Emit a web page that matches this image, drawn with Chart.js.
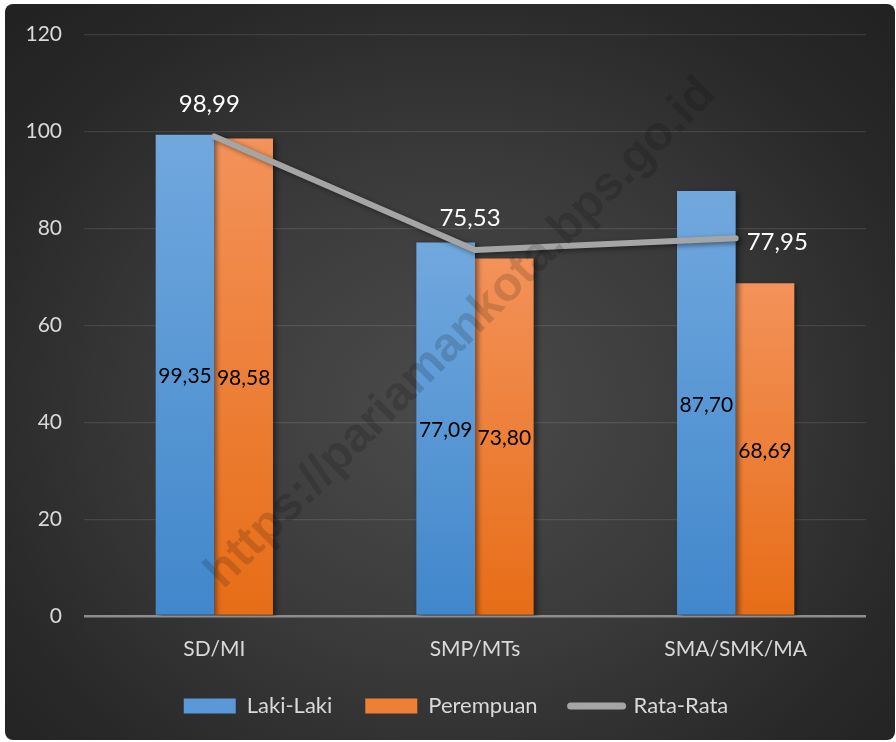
<!DOCTYPE html>
<html>
<head>
<meta charset="utf-8">
<script src="https://cdn.jsdelivr.net/npm/chart.js@4/dist/chart.umd.min.js"></script>
<style>
  html, body { margin: 0; padding: 0; background: #ffffff; }
  #bg {
    position: absolute; left: 5px; top: 4px; width: 890px; height: 736px;
    border-radius: 8px;
    background: radial-gradient(ellipse 70% 75% at 50% 55%, #4b4b4b 0%, #3a3a3a 45%, #282828 80%, #222222 100%);
  }
  #wrap { position: absolute; left: 0; top: 0; width: 896px; height: 742px; }
</style>
</head>
<body>
<div id="bg"></div>
<div id="wrap"><canvas id="c" width="896" height="742"></canvas></div>
<script>
const categories = ['SD/MI', 'SMP/MTs', 'SMA/SMK/MA'];
const lakiLaki = [99.35, 77.09, 87.70];
const perempuan = [98.58, 73.80, 68.69];
const rataRata = [98.99, 75.53, 77.95];
const seriesNames = ['Laki-Laki', 'Perempuan', 'Rata-Rata'];
const yTicks = [0, 20, 40, 60, 80, 100, 120];
const watermarkText = 'https://pariamankota.bps.go.id';

const FONT = 'Lato, "Open Sans", sans-serif';
const fmt = v => v.toFixed(2).replace('.', ',');

function barGradient(top, bottom) {
  return function(ctx) {
    const chart = ctx.chart;
    const ys = chart.scales && chart.scales.y;
    if (!ys || ctx.raw === undefined || !isFinite(ys.getPixelForValue(0))) return bottom;
    const y0 = ys.getPixelForValue(ctx.raw);
    const y1 = ys.getPixelForValue(0);
    const g = chart.ctx.createLinearGradient(0, y0, 0, y1);
    g.addColorStop(0, top);
    g.addColorStop(1, bottom);
    return g;
  };
}

const shadowPlugin = {
  id: 'shadows',
  afterLayout(chart) {
    if (chart.legend) { chart.legend.left += 23; chart.legend.right += 23; }
  },
  beforeDatasetsDraw(chart) {
    const c = chart.ctx;
    c.save();
    c.shadowColor = 'rgba(0,0,0,0.45)';
    c.shadowBlur = 5;
    c.shadowOffsetX = 3;
    c.shadowOffsetY = 2;
  },
  afterDatasetsDraw(chart) {
    chart.ctx.restore();
  }
};

const linePlacement = ['above', 'above', 'right'];

const labelPlugin = {
  id: 'labels',
  afterDatasetsDraw(chart) {
    const c = chart.ctx;
    const ca = chart.chartArea;
    // watermark
    c.save();
    c.translate((ca.left + ca.right) / 2 - 14, (ca.top + ca.bottom) / 2 + 8);
    c.rotate(-Math.PI / 4);
    c.font = 'bold 48px "Liberation Sans", Arial, sans-serif';
    c.fillStyle = 'rgba(0,0,0,0.15)';
    c.textAlign = 'center';
    c.textBaseline = 'middle';
    c.fillText(watermarkText, 0, 0);
    c.restore();

    c.save();
    // bar labels
    c.font = '21px ' + FONT;
    c.fillStyle = '#000000';
    c.textAlign = 'center';
    c.textBaseline = 'middle';
    [0, 1].forEach(di => {
      const meta = chart.getDatasetMeta(di);
      const data = chart.data.datasets[di].data;
      meta.data.forEach((bar, i) => {
        c.fillText(fmt(data[i]), bar.x, (bar.y + bar.base) / 2 + 2);
      });
    });
    // line labels
    c.font = '24px ' + FONT;
    c.fillStyle = '#ffffff';
    const lmeta = chart.getDatasetMeta(2);
    lmeta.data.forEach((pt, i) => {
      const t = fmt(rataRata[i]);
      if (linePlacement[i] === 'right') {
        c.textAlign = 'left';
        c.fillText(t, pt.x + 11, pt.y + 4);
      } else {
        c.textAlign = 'center';
        c.fillText(t, pt.x - 5, pt.y - 32);
      }
    });
    c.restore();
  }
};

new Chart(document.getElementById('c'), {
  data: {
    labels: categories,
    datasets: [
      {
        type: 'bar', label: seriesNames[0], data: lakiLaki, order: 2,
        backgroundColor: barGradient('#71a8de', '#4187cb'),
        categoryPercentage: 0.45, barPercentage: 1.0, borderWidth: 0
      },
      {
        type: 'bar', label: seriesNames[1], data: perempuan, order: 2,
        backgroundColor: barGradient('#f3925a', '#e76d17'),
        categoryPercentage: 0.45, barPercentage: 1.0, borderWidth: 0
      },
      {
        type: 'line', label: seriesNames[2], data: rataRata, order: 1,
        borderColor: '#a5a5a5', backgroundColor: '#a5a5a5', borderWidth: 6,
        pointRadius: 0, pointHoverRadius: 0, tension: 0, fill: false,
        borderCapStyle: 'round', borderJoinStyle: 'round'
      }
    ]
  },
  options: {
    responsive: false,
    animation: false,
    events: [],
    layout: { padding: { left: 0, right: 30, top: 34, bottom: 15 } },
    scales: {
      x: {
        grid: { display: false },
        border: { display: false },
        ticks: { color: '#d9d9d9', font: { family: FONT, size: 21 }, padding: 13 },
        afterFit(s) { s.height = 46; }
      },
      y: {
        min: 0, max: 120,
        afterBuildTicks(s) { s.ticks = yTicks.map(v => ({ value: v })); },
        grid: {
          drawTicks: false,
          color: c => (c.tick && c.tick.value === 0) ? '#8e8e8e' : 'rgba(255,255,255,0.10)',
          lineWidth: c => (c.tick && c.tick.value === 0) ? 2.5 : 1.2
        },
        border: { display: false },
        ticks: { color: '#d9d9d9', font: { family: FONT, size: 21 }, padding: 22 },
        afterFit(s) { s.width = 84; }
      }
    },
    plugins: {
      tooltip: { enabled: false },
      legend: {
        position: 'bottom',
        labels: {
          color: '#d9d9d9',
          font: { family: FONT, size: 22 },
          usePointStyle: true,
          pointStyleWidth: 52,
          boxHeight: 15,
          padding: 33,
          generateLabels() {
            return [
              { text: seriesNames[0], fillStyle: '#5a98d8', strokeStyle: '#5a98d8', lineWidth: 0, pointStyle: 'rect', fontColor: '#d9d9d9', datasetIndex: 0 },
              { text: seriesNames[1], fillStyle: '#ef7f35', strokeStyle: '#ef7f35', lineWidth: 0, pointStyle: 'rect', fontColor: '#d9d9d9', datasetIndex: 1 },
              { text: seriesNames[2], fillStyle: '#a5a5a5', strokeStyle: '#a5a5a5', lineWidth: 7, lineCap: 'round', pointStyle: 'line', fontColor: '#d9d9d9', datasetIndex: 2 }
            ];
          }
        }
      }
    }
  },
  plugins: [shadowPlugin, labelPlugin]
});
</script>
</body>
</html>
